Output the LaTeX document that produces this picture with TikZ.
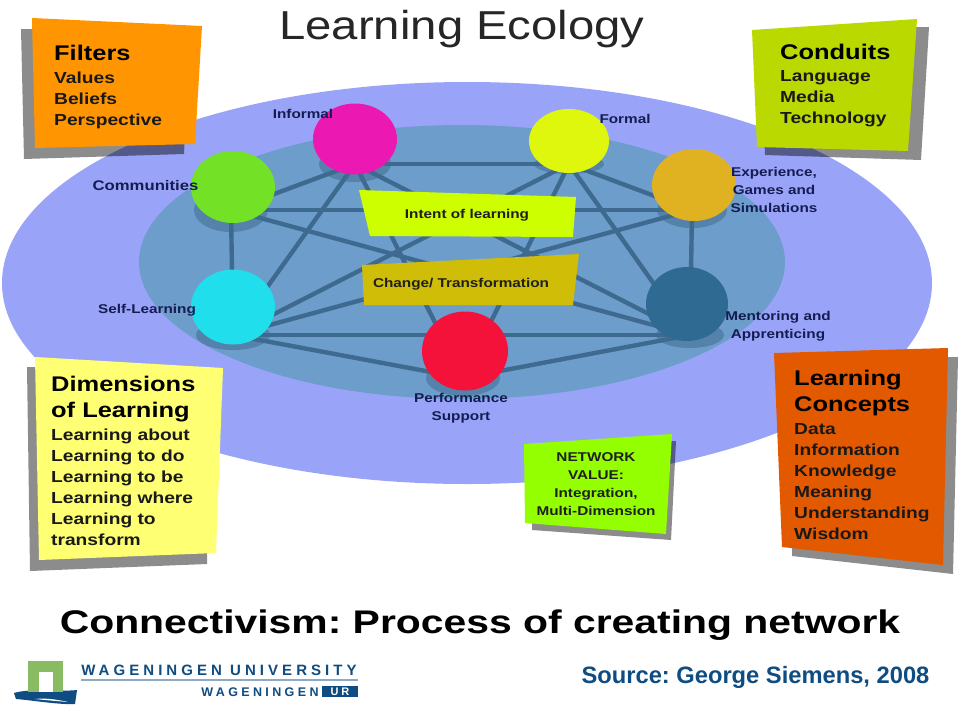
\documentclass[tikz,border=0pt]{standalone}
\usepackage{fontspec}
\setmainfont{Liberation Sans}
\newfontfamily\widefont[LetterSpace=27]{Liberation Sans}
\newfontfamily\boxfont[FakeStretch=1.2]{Liberation Sans}
\newfontfamily\titlefont[FakeStretch=1.17]{Liberation Sans}
\newfontfamily\subfont[FakeStretch=1.25]{Liberation Sans}
\usetikzlibrary{shapes.geometric}
\definecolor{bigE}{HTML}{99A4F9}
\definecolor{innerE}{HTML}{6C9DCB}
\definecolor{linkC}{HTML}{3F6A90}
\definecolor{shadowE}{HTML}{5582AB}
\definecolor{boxShadow}{HTML}{8C8C8C}
\definecolor{labelC}{HTML}{141C50}
\definecolor{wurBlue}{HTML}{0F4C81}
\definecolor{wurGreen}{HTML}{88BB62}
\definecolor{wurLine}{HTML}{8CAAC8}
\definecolor{cInformal}{HTML}{EC18B2}
\definecolor{cFormal}{HTML}{DEF70D}
\definecolor{cExp}{HTML}{E0B222}
\definecolor{cComm}{HTML}{73E226}
\definecolor{cSelf}{HTML}{20DEEB}
\definecolor{cMent}{HTML}{2E6A91}
\definecolor{cPerf}{HTML}{F4123A}
\definecolor{cIntent}{HTML}{CDFF00}
\definecolor{cChange}{HTML}{CFBD08}
\definecolor{cFilters}{HTML}{FF9500}
\definecolor{cConduits}{HTML}{BAD900}
\definecolor{cDim}{HTML}{FFFF73}
\definecolor{cNet}{HTML}{94FF00}
\definecolor{cConcepts}{HTML}{E35900}
\tikzset{
  x=1pt,y=-1pt,
  hub/.style={ellipse,inner sep=0pt,minimum width=#1},
  base/.style={ellipse,fill=shadowE,inner sep=0pt},
  link/.style={draw=linkC,line width=4.4pt},
  lbl/.style={font=\boxfont\bfseries\fontsize{12.75}{18.4}\selectfont,text=labelC,align=center,inner sep=0pt},
  plate/.style={font=\boxfont\bfseries\fontsize{12.75}{18}\selectfont,text=black!88,align=center,inner sep=0pt},
  boxhead/.style={font=\boxfont\bfseries\fontsize{21.2}{26}\selectfont,text=black,align=left,inner sep=0pt,anchor=north west},
  boxbody/.style={font=\boxfont\bfseries\fontsize{16}{21}\selectfont,text=black!90,align=left,inner sep=0pt,anchor=north west},
  cast/.style={fill=boxShadow,blend mode=multiply},
}
\begin{document}
\frenchspacing
\begin{tikzpicture}
\useasboundingbox (0,0) rectangle (960,720);
\fill[white] (0,0) rectangle (960,720);
% ellipses
\fill[bigE] (467,283) ellipse [x radius=465,y radius=201];
\fill[innerE] (462,262) ellipse [x radius=323,y radius=137];
% ground shadows
\node[base,minimum width=72pt,minimum height=36pt] (sI) at (355,164) {};
\node[base,minimum width=70pt,minimum height=20pt] (sF) at (569,164) {};
\node[base,minimum width=70pt,minimum height=36pt] (sE) at (692,210) {};
\node[base,minimum width=74pt,minimum height=44pt] (sC) at (231,210) {};
\node[base,minimum width=74pt,minimum height=30pt] (sS) at (233,335) {};
\node[base,minimum width=68pt,minimum height=26pt] (sM) at (690,335) {};
\node[base,minimum width=74pt,minimum height=36pt] (sP) at (463,378) {};
% connectors
\foreach \a/\b in {sI/sF,sI/sC,sI/sS,sI/sM,sI/sP,
                   sF/sE,sF/sS,sF/sM,sF/sP,
                   sE/sC,sE/sS,sE/sM,
                   sC/sS,sC/sM,
                   sS/sM,sS/sP,
                   sM/sP}
  \draw[link] (\a.center) -- (\b.center);
% hubs
\node[hub=84pt,minimum height=71pt,fill=cInformal] (informal) at (355,139) {};
\node[hub=80pt,minimum height=64pt,fill=cFormal] (formal) at (569,141) {};
\node[hub=84pt,minimum height=72pt,fill=cExp] (experience) at (694,185) {};
\node[hub=84pt,minimum height=72pt,fill=cComm] (communities) at (233,187) {};
\node[hub=84pt,minimum height=75pt,fill=cSelf] (self) at (233,307) {};
\node[hub=82pt,minimum height=74pt,fill=cMent] (mentoring) at (687,304) {};
\node[hub=86pt,minimum height=79pt,fill=cPerf] (performance) at (465,351) {};
% centre plates
\fill[cIntent] (359,190) -- (576,197) -- (573,237) -- (370,236) -- cycle;
\node[plate] (intent) at (467,215) {Intent of learning};
\fill[cChange] (362,265) -- (579,254) -- (573,305) -- (364,305) -- cycle;
\node[plate] (change) at (461,284) {Change/ Transformation};
% hub labels
\node[lbl] (lInformal) at (303,114) {Informal};
\node[lbl] (lFormal) at (625,119) {Formal};
\node[lbl] (lExp) at (774,190) {Experience,\\Games and\\Simulations};
\node[lbl,font=\boxfont\bfseries\fontsize{13.9}{18.4}\selectfont] (lComm) at (145.5,186) {Communities};
\node[lbl] (lSelf) at (147,310) {Self-Learning};
\node[lbl] (lMent) at (778,326) {Mentoring and\\Apprenticing};
\node[lbl] (lPerf) at (461,408) {Performance\\Support};
% filters
\fill[cast] (21,29) -- (190,30) -- (184,154) -- (24,159) -- cycle;
\fill[cFilters] (32,18) -- (202,26) -- (195,144) -- (35,148) -- cycle;
\node[boxhead] (fH) at (54,44.6) {Filters};
\node[boxbody] (fB) at (54,71.5) {Values\\Beliefs\\Perspective};
% conduits
\fill[cast] (760,30) -- (929,27) -- (921,160) -- (765,155) -- cycle;
\fill[cConduits] (752,30) -- (917,19) -- (908,151) -- (757,147) -- cycle;
\node[boxhead] (cH) at (780,43.5) {Conduits};
\node[boxbody] (cB) at (780,70.5) {Language\\Media\\Technology};
% dimensions
\fill[cast] (27,367) -- (210,372) -- (207,564) -- (30,571) -- cycle;
\fill[cDim] (35,357) -- (223,368) -- (216,553) -- (39,560) -- cycle;
\node[boxhead] (dH) at (51,375.6) {Dimensions\\of Learning};
\node[boxbody] (dB) at (51,428.3) {Learning about\\Learning to do\\Learning to be\\Learning where\\Learning to\\transform};
% network value
\fill[cast] (532,450) -- (676,441) -- (671,540) -- (532,530) -- cycle;
\fill[cNet] (524,444) -- (672,434) -- (666,534) -- (525,523) -- cycle;
\node[plate] (nv) at (596,484) {NETWORK\\VALUE:\\Integration,\\Multi-Dimension};
% concepts
\fill[cast] (792,360) -- (958,357) -- (953,574) -- (792,556) -- cycle;
\fill[cConcepts] (774,353) -- (948,348) -- (943,565) -- (782,547) -- cycle;
\node[boxhead] (lcH) at (794,369.6) {Learning\\Concepts};
\node[boxbody] (lcB) at (794,423.5) {Data\\Information\\Knowledge\\Meaning\\Understanding\\Wisdom};
% titles
\node[font=\titlefont\fontsize{40.4}{44}\selectfont,text=black!85,inner sep=0pt,anchor=base] (title) at (462,39) {Learning Ecology};
\node[font=\subfont\bfseries\fontsize{32.7}{36}\selectfont,text=black,inner sep=0pt,anchor=base] (sub) at (480,633) {Connectivism: Process of creating network};
\node[font=\bfseries\fontsize{23.7}{26}\selectfont,text=wurBlue,inner sep=0pt,anchor=base] (src) at (755.5,683) {Source: George Siemens, 2008};
% logo
\fill[wurBlue] (14,693) .. controls (30,688) and (60,692) .. (77,690) -- (75,704) .. controls (60,705) and (30,700) .. (16,699) -- cycle;
\fill[white] (35,699) .. controls (45,698) and (55,699) .. (68,702) .. controls (55,701) and (45,700) .. (35,699) -- cycle;
\fill[wurGreen] (28,661) rectangle (63,692);
\fill[white] (39,672) rectangle (53,692);
\node[font=\widefont\bfseries\fontsize{15}{15}\selectfont,text=wurBlue,inner sep=0pt] (wu) at (219,670) {WAGENINGEN UNIVERSITY};
\draw[wurLine,line width=1.2pt] (81,680) -- (358,680);
\node[font=\widefont\bfseries\fontsize{12.5}{13}\selectfont,text=wurBlue,inner sep=0pt] (wg) at (260,692) {WAGENINGEN};
\fill[wurBlue] (322,686) rectangle (358,697);
\node[font=\widefont\bfseries\fontsize{11}{12}\selectfont,text=white,inner sep=0pt] (ur) at (340,692) {UR};
\end{tikzpicture}
\end{document}
